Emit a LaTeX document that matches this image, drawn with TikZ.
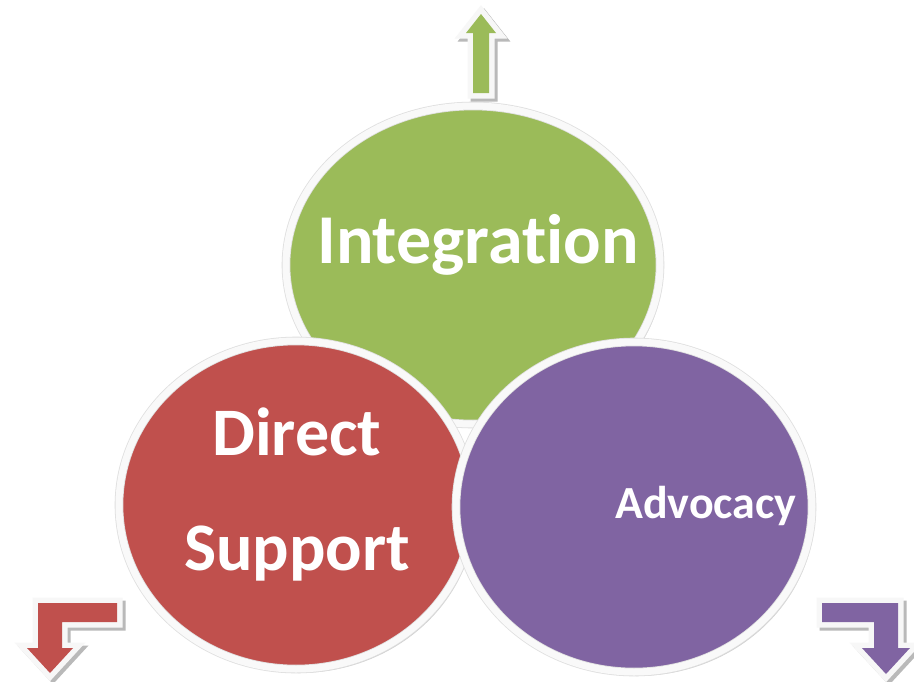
\documentclass[tikz,border=0pt]{standalone}
\usepackage{fontspec}
\setmainfont{Carlito}[Ligatures=NoCommon]
\usetikzlibrary{shapes.geometric,shadows}
\definecolor{cgreen}{HTML}{9BBB59}
\definecolor{cred}{HTML}{C0504D}
\definecolor{cpurple}{HTML}{8064A2}
\tikzset{
  blob/.style={ellipse, inner sep=0pt, draw=gray!25, double=white!95!gray, double distance=7pt, line width=0.8pt,
    drop shadow={shadow xshift=3pt, shadow yshift=-4pt, fill=black, opacity=0.18}},
  lbl/.style={text=white, anchor=base, inner sep=0pt, font=\bfseries},
  arrshadow/.style={fill=gray!55, draw=gray!55, line width=11pt, line join=miter},
  arrwhite/.style={fill=white, draw=white!94!gray, line width=11pt, line join=miter},
}
\begin{document}
\begin{tikzpicture}[x=1pt,y=-1pt]
\useasboundingbox (0,0) rectangle (914,681);
\fill[white] (0,0) rectangle (914,681);
% circles
\node[blob, fill=cgreen, minimum width=374pt, minimum height=318pt] (green) at (473,265) {};
\node[blob, fill=cred, minimum width=354pt, minimum height=328pt] (red) at (296,505) {};
\node[blob, fill=cpurple, minimum width=356pt, minimum height=330pt] (purple) at (634,507) {};
% labels
\node[lbl, font=\bfseries\fontsize{70}{84}\selectfont] (tint) at (478,263) {Integration};
\node[lbl, font=\bfseries\fontsize{68}{80}\selectfont] (tdir) at (297,455) {Direct};
\node[lbl, font=\bfseries\fontsize{68}{80}\selectfont] (tsup) at (297,570) {Support};
\node[lbl, font=\bfseries\fontsize{46}{56}\selectfont] (tadv) at (706,518) {Advocacy};
% arrows
\def\uparr{(473,93) -- (473,33) -- (466,33) -- (481,14) -- (496,33) -- (489,33) -- (489,93) -- cycle}
\def\larr{(117,603) -- (38,603) -- (38,648) -- (27,648) -- (50,673) -- (73,648) -- (62,648) -- (62,622) -- (117,622) -- cycle}
\def\rarr{(822,603) -- (898,603) -- (898,648) -- (910,648) -- (886,674) -- (862,648) -- (874,648) -- (874,622) -- (822,622) -- cycle}
\begin{scope}[shift={(3,3)}]
  \path[arrshadow] \uparr;
  \path[arrshadow] \larr;
  \path[arrshadow] \rarr;
\end{scope}
\path[arrwhite] \uparr;
\path[arrwhite] \larr;
\path[arrwhite] \rarr;
\fill[cgreen] \uparr;
\fill[cred] \larr;
\fill[cpurple] \rarr;
\end{tikzpicture}
\end{document}
